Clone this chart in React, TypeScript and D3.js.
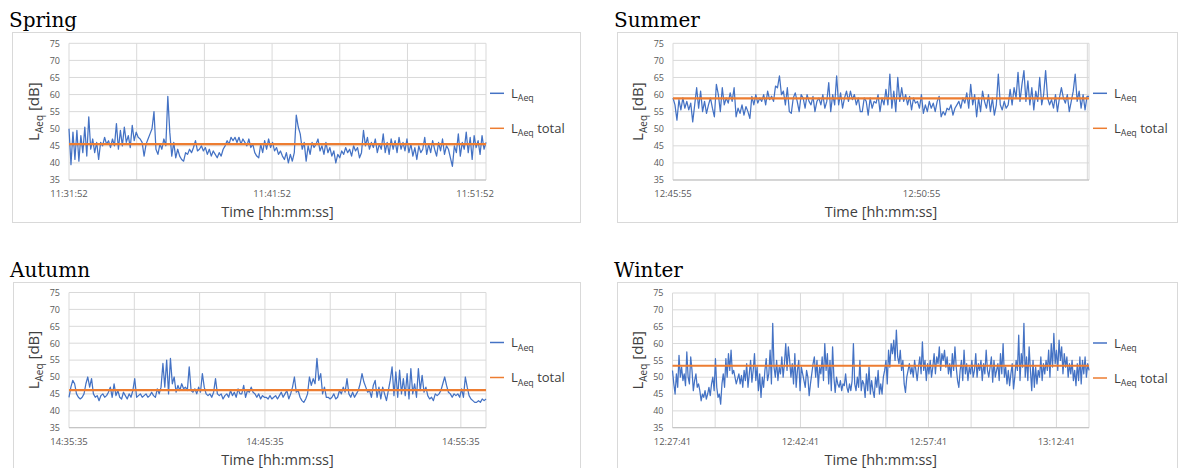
import React from 'react';
import * as d3 from 'd3';

// ---- data (dB, evenly spaced samples) ----
const springLAeq = [
  50, 39.5, 49, 41, 49.5, 40.5, 48, 43, 50.5, 42,
  53.5, 44, 47, 43, 46, 41,
  46, 45, 47.5, 45.5, 46.5, 44.5, 47, 45,
  51.5, 44, 49.5, 45, 50.5, 46, 48, 44.5, 51, 46.5, 49, 47.5,
  47, 46, 42, 45.5, 47, 48.5, 50, 55,
  44, 42.5, 45.5, 44, 47,
  45, 59.5, 49, 42,
  46, 41.5, 44, 42, 41, 40.5, 43,
  42.5, 44, 43, 44.5, 46.5, 43.5, 44,
  45, 43.5, 44.5, 42.5, 44,
  42, 43.5, 42.5, 41.5, 43, 42, 44,
  45, 46.5, 45.5, 47.5, 46.5, 47.5, 46, 47.5, 45.5, 47,
  46, 45, 47, 44.5, 45.5, 43, 42, 41.5,
  45.5, 43, 46.5, 44, 47,
  44.5, 46, 43.5, 44.5, 42.5, 43.5, 42,
  41, 43, 40, 42.5, 40.5, 43,
  54, 50.5, 48.5, 44,
  46, 40.5, 45, 42.5, 46, 44.5, 45.5,
  47, 43.5, 45, 42.5, 46, 43, 44.5,
  42, 43.5, 40, 42.5, 41.5,
  43.5, 42.5, 44.5, 43, 44, 42, 45, 43.5, 44.5, 41.5,
  43, 49.5, 45, 47.5, 44,
  46, 44.5, 47, 43, 45.5, 44, 48.5,
  43, 46, 42.5, 47, 44, 46.5, 43,
  47.5, 44, 46, 43.5, 47,
  43, 45.5, 42, 44.5, 41, 45, 43, 44,
  47.5, 42.5, 45.5, 43, 46.5, 44, 42,
  46, 43.5, 47, 42.5, 45, 44, 41.5,
  39, 45, 43,
  48.5, 42, 46, 44, 49, 43, 47.5, 41, 48, 44.5, 46.5, 42.5, 48, 44, 46,
];
const springTotal = 45.5;
const springSpan = 1232;
const springGridStep = 200;
const springTickSec = [0, 600, 1200];
const springTickLabels = ['11:31:52', '11:41:52', '11:51:52'];

const summerLAeq = [
  59, 57, 52.5, 58.5, 55.5, 59,
  56, 58, 55.5, 57.5, 52,
  57, 62, 56, 61,
  55, 58, 54.5, 57, 59, 56, 53.5,
  63, 60, 55, 62, 57,
  59, 57.5, 60.5, 58, 62,
  53.5, 56, 54.5, 57, 54, 56.5, 55, 53,
  59.5, 57, 60,
  57.5, 59, 58, 60, 57, 61, 58.5, 59.5, 58, 62.5,
  62, 65.5, 60,
  61, 57, 62, 55,
  54.5, 59, 60.5, 58, 55, 60, 59,
  56, 60, 58, 57, 59.5, 55, 58,
  59, 57, 60, 56, 58,
  63.5, 55, 60, 57, 65.5,
  57, 60.5, 56, 59, 61, 58,
  61, 58.5, 60, 57, 59, 55,
  55, 59, 58, 54, 59, 56,
  58, 57.5, 60, 55, 59, 57, 61.5, 57,
  66, 56, 61, 55, 65, 58, 62,
  58, 60, 57, 59.5, 55.5, 59, 57.5,
  58, 56, 60, 54.5, 57, 55, 58,
  56, 57.5, 55, 58, 59.5,
  53.5, 55, 54, 56, 55.5, 57, 54, 56,
  57, 58, 56, 59, 57.5, 60.5, 56,
  63, 57, 60, 53.5,
  59, 55, 61, 58, 56,
  60, 55, 59, 54, 57, 66, 57,
  55.5, 58, 56, 57, 61.5,
  57, 62, 59, 66.5, 58, 63,
  67, 58, 64, 57, 62, 55.5,
  61, 58, 65, 57, 60, 67, 59,
  57, 58.5, 56, 60, 55, 59, 62,
  59, 57.5, 60, 55, 58, 61, 66,
  58, 61, 56, 60, 55.5, 59.5, 59.5,
];
const summerTotal = 58.9;
const summerSpan = 502;
const summerGridStep = 100;
const summerTickSec = [0, 300];
const summerTickLabels = ['12:45:55', '12:50:55'];

const autumnLAeq = [
  44, 47, 49, 48, 45, 44, 43.5, 44, 45, 48, 50, 47, 49.5, 45, 44,
  44.5, 43, 44.5, 45, 44, 44.5, 45.5, 47, 44, 48, 44.5, 46, 44, 43.5, 45.5,
  44.5, 43.5, 45, 44, 46, 49.5, 44, 44.5, 45, 44, 44.5, 45, 44, 44.5, 45.5,
  44.5, 44, 46.5, 45, 47, 54, 47, 55, 45, 55.5, 48, 50, 45.5, 47.5, 46,
  48, 46.5, 47, 46, 53, 46, 45.5, 46.5, 45, 47, 45.5, 51, 47, 45, 44.5,
  45, 44, 45.5, 49.5, 45, 44.5, 45, 43.5, 44.5, 45, 44, 46, 44.5, 45.5, 44,
  46.5, 45, 45, 47.5, 44, 46, 45.5, 47, 45.5, 45,
  44, 45, 43.5, 44.5, 44,
  44, 43.5, 44.5, 43.5, 44, 44.5, 43.5,
  44.5, 45.5, 44, 45, 46, 43.5, 45,
  47, 50, 45.5,
  46, 44, 43, 42.5, 43.5,
  45, 50, 47.5, 49.5,
  48, 55.5, 49, 51,
  45, 47, 44,
  44, 43.5, 44, 45, 43.5, 44, 46, 45, 47, 45.5,
  49.5, 45,
  44, 45.5, 44, 45, 46,
  48, 51, 48.5, 47,
  45.5, 46, 44, 47.5,
  49, 44, 47, 43.5,
  47, 45, 43, 46,
  49, 53, 44.5,
  51.5, 44, 52, 45, 49.5,
  44.5, 51, 43.5, 52.5, 45, 48,
  44, 52.5, 46, 50.5,
  45.5, 47, 44.5, 43.5, 44,
  43, 45, 44.5, 45,
  46, 48, 50, 47.5, 45.5,
  45, 44, 45, 44.5, 45, 44, 46.5, 44,
  50, 47, 44.5,
  43.5, 43, 42.5, 42.5, 43, 42.5, 43.5, 43, 43.5,
];
const autumnTotal = 46.1;
const autumnSpan = 1277;
const autumnGridStep = 200;
const autumnTickSec = [0, 600, 1200];
const autumnTickLabels = ['14:35:35', '14:45:35', '14:55:35'];

const winterLAeq = [
  52, 48, 45, 51, 47, 56.5, 50, 53, 49, 51, 47.5,
  57.5, 50, 48, 56, 52, 46, 49, 51, 47, 48, 46,
  43, 45, 44, 46, 43.5, 45, 47, 44.5, 48,
  50, 46, 55.5, 47, 44, 45, 42, 48, 51, 47,
  55.5, 50, 57, 52, 58, 51, 52, 50, 48, 49.5, 51, 48, 50.5, 47,
  52, 49, 54, 47, 51, 55, 48.5, 52,
  57, 49, 53, 46, 51, 44, 50, 47, 52, 55.5, 49, 51,
  58, 48, 66, 53, 50, 55, 49, 53, 51, 56, 50, 54,
  60, 52, 59, 55, 50, 54, 48, 57, 47, 52, 55, 46, 53, 51,
  49, 47, 52, 50, 44.5, 48, 51, 54,
  56, 50, 55, 47, 53, 51, 56, 49,
  60, 52, 57, 48, 55, 46, 59, 50,
  45.5, 50, 48, 47, 49, 46, 48, 47.5, 51,
  47, 45.5, 48, 46, 49, 60, 48,
  46, 50, 47, 55, 46, 49,
  48, 44, 51, 46, 53, 45, 49,
  46, 44, 50, 47, 52, 45,
  48, 45, 50, 52, 55, 48,
  58, 53, 60, 57, 61, 55, 64,
  56, 54, 58, 52, 55,
  48, 45.5, 50, 52,
  54, 51, 53, 50, 55, 52, 49, 53, 56, 51,
  60.5, 52, 55, 49, 54,
  51, 55, 50, 53, 57, 51, 56, 54,
  59, 52, 57, 55, 58, 53, 56,
  51, 54, 50, 57, 52, 59, 53,
  49, 47, 52, 55, 49, 58, 51,
  54, 49, 53, 51, 55, 50, 52, 57, 50, 54,
  52, 55, 49, 54, 51, 58, 52, 50,
  53, 56, 48.5, 55, 50, 52, 54, 49,
  57, 51, 60, 50, 53, 48, 52,
  47.5, 51, 54, 46.5, 50,
  55, 52, 62.5, 49, 57,
  53, 66, 50, 56, 49, 59,
  52, 46, 55, 47, 53, 48,
  52, 50, 56, 49, 54, 51,
  55, 52, 58, 50, 60, 53, 63,
  54, 58, 52, 61, 55, 59, 51, 57,
  53, 56, 50, 54, 51, 55, 49,
  52, 47.5, 54, 49, 56, 48, 55,
  51, 56, 50, 54, 52,
];
const winterTotal = 53.4;
const winterSpan = 2929;
const winterGridStep = 300;
const winterTickSec = [0, 900, 1800, 2700];
const winterTickLabels = ['12:27:41', '12:42:41', '12:57:41', '13:12:41'];

const yTicks = [35, 40, 45, 50, 55, 60, 65, 70, 75];

const BLUE = '#4472c4';
const ORANGE = '#ed7d31';
const GRID = '#d9d9d9';
const TEXT = '#595959';
const SANS = '"Open Sans", "Liberation Sans", sans-serif';

const panels = [
  { title: 'Spring', values: springLAeq, total: springTotal, span: springSpan, gridStep: springGridStep,
    tickSec: springTickSec, tickLabels: springTickLabels,
    box: { x: 12, y: 32, w: 568, h: 190 }, plot: { left: 69, right: 486, top: 43.3, bottom: 180 } },
  { title: 'Summer', values: summerLAeq, total: summerTotal, span: summerSpan, gridStep: summerGridStep,
    tickSec: summerTickSec, tickLabels: summerTickLabels,
    box: { x: 617, y: 32, w: 560, h: 190 }, plot: { left: 673, right: 1089, top: 43.3, bottom: 180 } },
  { title: 'Autumn', values: autumnLAeq, total: autumnTotal, span: autumnSpan, gridStep: autumnGridStep,
    tickSec: autumnTickSec, tickLabels: autumnTickLabels,
    box: { x: 13, y: 282, w: 567, h: 200 }, plot: { left: 69, right: 486, top: 292.5, bottom: 427.7 } },
  { title: 'Winter', values: winterLAeq, total: winterTotal, span: winterSpan, gridStep: winterGridStep,
    tickSec: winterTickSec, tickLabels: winterTickLabels,
    box: { x: 617, y: 282, w: 560, h: 200 }, plot: { left: 672.5, right: 1089, top: 293, bottom: 427.7 } },
];

const LAeq = ({ x, y, size, suffix }) => (
  <text x={x} y={y} fontFamily={SANS} fontSize={size} fill="#404040">
    L<tspan fontSize={size * 0.68} dy={size * 0.28}>Aeq</tspan>
    {suffix ? <tspan dy={-size * 0.28}>{suffix}</tspan> : null}
  </text>
);

const Panel = ({ cfg }) => {
  const { plot, box } = cfg;
  const x = d3.scaleLinear().domain([0, cfg.span]).range([plot.left, plot.right]);
  const y = d3.scaleLinear().domain([35, 75]).range([plot.bottom, plot.top]);
  const step = cfg.span / (cfg.values.length - 1);
  const line = d3.line<number>().x((_, i) => x(i * step)).y((d) => y(d));
  const grid = d3.range(cfg.gridStep, cfg.span, cfg.gridStep);
  const midX = (plot.left + plot.right) / 2;
  const midY = (plot.top + plot.bottom) / 2;
  const legX = plot.right + 4;

  return (
    <g>
      <rect x={box.x + 0.5} y={box.y + 0.5} width={box.w} height={box.h} fill="white" stroke={GRID} />
      <text x={box.x - 3} y={box.y - 5} fontFamily='"DejaVu Serif", serif' fontSize={20} fill="#000">{cfg.title}</text>

      {yTicks.map((t) => (
        <line key={'h' + t} x1={plot.left} x2={plot.right} y1={y(t)} y2={y(t)} stroke={GRID} strokeWidth={1} />
      ))}
      {grid.map((t) => (
        <line key={'v' + t} x1={x(t)} x2={x(t)} y1={plot.top} y2={plot.bottom} stroke={GRID} strokeWidth={1} />
      ))}
      <line x1={plot.left} x2={plot.left} y1={plot.top} y2={plot.bottom} stroke={GRID} />
      <line x1={plot.right} x2={plot.right} y1={plot.top} y2={plot.bottom} stroke={GRID} />
      <line x1={plot.left} x2={plot.right} y1={plot.bottom} y2={plot.bottom} stroke="#bfbfbf" />

      {yTicks.map((t) => (
        <text key={'yl' + t} x={plot.left - 9} y={y(t) + 3.3} textAnchor="end" fontFamily={SANS} fontSize={9} fill={TEXT}>{t}</text>
      ))}
      {cfg.tickSec.map((s, i) => (
        <text key={'xl' + s} x={x(s)} y={plot.bottom + 17} textAnchor="middle" fontFamily={SANS} fontSize={9.5} fill={TEXT}>{cfg.tickLabels[i]}</text>
      ))}

      <path d={line(cfg.values) || ''} fill="none" stroke={BLUE} strokeWidth={1.25} strokeLinejoin="round" />
      <line x1={x(0)} x2={x(cfg.span)} y1={y(cfg.total)} y2={y(cfg.total)} stroke={ORANGE} strokeWidth={2.2} />

      <text x={midX} y={plot.bottom + 37} textAnchor="middle" fontFamily={SANS} fontSize={14.5} fill="#404040">Time [hh:mm:ss]</text>
      <g transform={`translate(${plot.left - 30},${midY}) rotate(-90)`}>
        <text x={0} y={0} textAnchor="middle" fontFamily={SANS} fontSize={15} fill="#404040">
          L<tspan fontSize={10} dy={4}>Aeq</tspan><tspan dy={-4}> [dB]</tspan>
        </text>
      </g>

      <line x1={legX} x2={legX + 14} y1={plot.top + 50} y2={plot.top + 50} stroke={BLUE} strokeWidth={1.5} />
      <LAeq x={legX + 21} y={plot.top + 54.5} size={13} suffix={null} />
      <line x1={legX} x2={legX + 14} y1={plot.top + 85} y2={plot.top + 85} stroke={ORANGE} strokeWidth={1.5} />
      <LAeq x={legX + 21} y={plot.top + 89.5} size={13} suffix=" total" />
    </g>
  );
};

export default function App() {
  return (
    <svg width={1178} height={468} style={{ position: 'absolute', left: 0, top: 0, background: 'white' }}>
      {panels.map((p) => (
        <Panel key={p.title} cfg={p} />
      ))}
    </svg>
  );
}
